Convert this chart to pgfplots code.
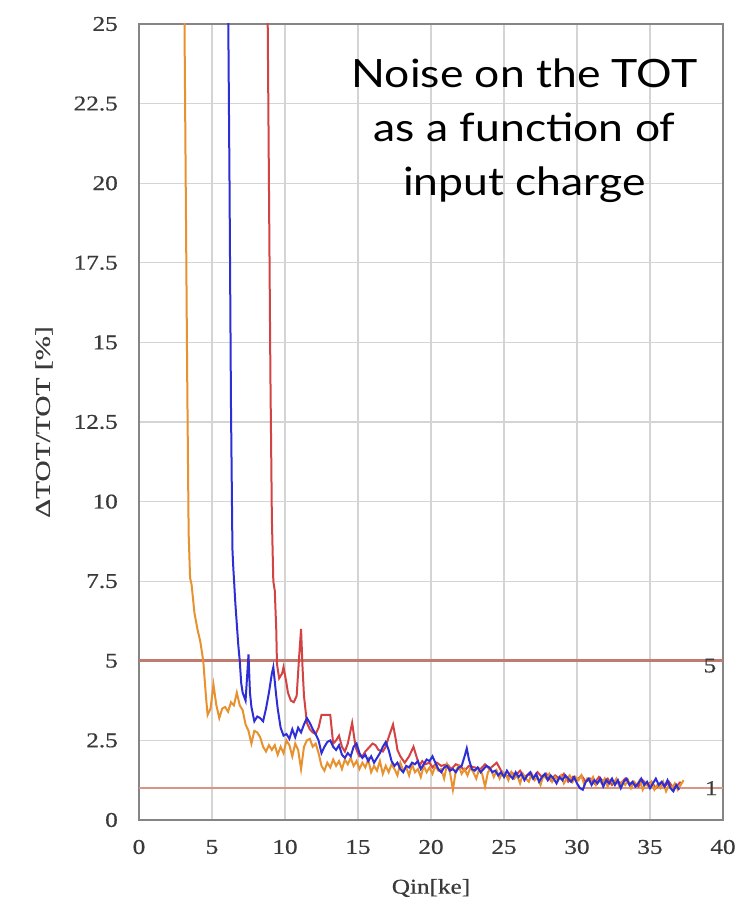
\documentclass[border=0pt]{standalone}
\usepackage{pgfplots}
\pgfplotsset{compat=1.18}
\usepackage{fontspec}
\setmainfont{Liberation Serif}[FakeStretch=1.2, FakeBold=0.6]
\newfontfamily\ylabfont{Liberation Serif}[FakeStretch=1.4, FakeBold=0.6]
\newfontfamily\titlefont{Lato}[FakeStretch=1.14]
\definecolor{gridgray}{HTML}{D4D4D4}
\definecolor{axisgray}{HTML}{858585}
\definecolor{tickgray}{HTML}{3A3A3A}
\definecolor{corange}{HTML}{E8912F}
\definecolor{cblue}{HTML}{2E2ED6}
\definecolor{cred}{HTML}{D34343}
\definecolor{hline}{HTML}{C07A70}
\definecolor{hlineb}{HTML}{D89585}
\begin{document}
\begin{tikzpicture}
\useasboundingbox (-139bp,-85bp) rectangle (617bp,820bp);
\begin{axis}[
  at={(0,0)}, anchor=south west,
  scale only axis, width=584bp, height=796bp,
  xmin=0, xmax=40, ymin=0, ymax=25,
  xtick={0,5,10,15,20,25,30,35,40},
  ytick={0,2.5,5,7.5,10,12.5,15,17.5,20,22.5,25},
  yticklabels={0,2.5,5,7.5,10,12.5,15,17.5,20,22.5,25},
  grid=major,
  major grid style={line width=1.3bp, draw=gridgray},
  axis line style={line width=2.2bp, draw=axisgray},
  major tick length=0pt,
  /pgf/number format/assume math mode=true,
  tick label style={font=\fontsize{21bp}{25bp}\selectfont, text=tickgray, inner sep=0pt},
  yticklabel style={anchor=east, xshift=-21bp},
  xticklabel style={anchor=center, yshift=-27bp},
  xlabel={Qin[ke]},
  ylabel={\ylabfont ΔTOT/TOT [\%]},
  label style={font=\fontsize{21bp}{25bp}\selectfont, text=tickgray, inner sep=0pt},
  xlabel style={at={(axis description cs:0.5,0)}, anchor=center, yshift=-68bp},
  ylabel style={at={(axis description cs:0,0.5)}, anchor=center, yshift=95bp},
]
\addplot[draw=hline, line width=2.8bp] coordinates {(0,5) (40,5)};
\addplot[draw=hlineb, line width=1.9bp] coordinates {(0,1) (40,1)};
% red
\addplot[draw=cred, line width=2bp] coordinates {
(8.8,26) (8.9,20) (9.0,14) (9.1,9.5) (9.2,7.5) (9.3,7.2) (9.4,6.0) (9.45,4.9) (9.6,4.45) (9.8,4.6) (9.9,4.8)
(10.1,4.3) (10.2,4.0) (10.4,3.75) (10.6,3.7) (10.8,3.9) (10.95,5.0) (11.1,6.0) (11.2,4.8) (11.3,3.9) (11.5,3.05)
(11.7,2.85) (11.9,2.75) (12.1,2.7) (12.3,2.9) (12.5,3.3) (12.7,3.3) (13.1,3.3) (13.3,2.4) (13.5,2.5) (13.7,2.65)
(13.9,2.3) (14.1,2.15) (14.3,2.4) (14.6,3.05) (14.8,2.4) (14.9,2.2) (15.1,2.0) (15.3,2.0) (15.5,2.15) (15.8,2.3)
(16.0,2.4) (16.2,2.35) (16.4,2.2) (16.7,2.15) (16.9,2.3) (17.1,2.6) (17.4,3.0) (17.6,2.5) (17.7,2.2) (17.9,2.0)
(18.2,1.8) (18.5,2.0) (18.8,2.3) (19.0,2.0) (19.2,1.7) (19.4,1.85) (19.6,1.75) (19.9,1.8) (20.1,1.65) (20.4,1.8)
(20.7,1.7) (21.1,1.75) (21.4,1.6) (21.7,1.75) (22.0,1.7) (22.3,1.55) (22.6,1.7) (23.0,1.65) (23.4,1.6) (23.7,1.75)
(24.0,1.6) (24.5,1.8) (24.8,1.55) (25.2,1.35) (25.5,1.5) (25.8,1.4) (26.1,1.55) (26.4,1.35) (26.7,1.45) (27.0,1.3)
(27.3,1.5) (27.6,1.35) (27.9,1.45) (28.2,1.25) (28.5,1.4) (28.8,1.3) (29.1,1.45) (29.4,1.2) (29.7,1.35) (30.0,1.25)
(30.3,1.4) (30.6,1.2) (30.9,1.3) (31.2,1.15) (31.5,1.35) (31.8,1.2) (32.1,1.3) (32.4,1.1) (32.7,1.25) (33.0,1.15)
(33.3,1.3) (33.6,1.1) (33.9,1.2) (34.2,1.05) (34.5,1.25) (34.8,1.1) (35.1,1.2) (35.4,1.0) (35.7,1.15) (36.0,1.05)
(36.3,1.2) (36.6,1.0) (36.9,1.1) (37.1,1.2)
};
% orange
\addplot[draw=corange, line width=2bp] coordinates {
(3.1,26) (3.2,20) (3.3,14) (3.4,9) (3.5,7.6) (3.6,7.4) (3.8,6.5) (4.0,6.0) (4.2,5.6) (4.4,5.0) (4.6,3.8) (4.7,3.3)
(4.9,3.5) (5.1,4.25) (5.3,3.6) (5.5,3.2) (5.7,3.5) (5.9,3.55) (6.1,3.4) (6.3,3.7) (6.5,3.6) (6.7,4.0) (6.9,3.6)
(7.1,3.45) (7.3,3.0) (7.5,2.8) (7.7,2.4) (7.9,2.8) (8.1,2.75) (8.3,2.6) (8.5,2.3) (8.7,2.15) (8.9,2.35) (9.1,2.2)
(9.3,2.35) (9.5,2.05) (9.7,2.3) (9.9,2.1) (10.1,2.5) (10.3,2.35) (10.5,2.0) (10.7,2.4) (10.9,2.2) (11.1,1.6)
(11.3,2.3) (11.5,2.5) (11.7,2.55) (11.9,2.3) (12.1,2.4) (12.3,2.1) (12.5,1.7) (12.7,1.55) (12.9,1.8) (13.1,1.65)
(13.3,1.9) (13.5,1.7) (13.7,1.85) (13.9,1.6) (14.1,1.9) (14.3,1.75) (14.5,1.95) (14.7,1.7) (14.9,1.85) (15.1,1.6)
(15.3,1.8) (15.5,1.65) (15.7,1.9) (15.9,1.5) (16.1,1.7) (16.3,1.55) (16.5,1.85) (16.7,1.45) (16.9,1.7) (17.1,1.5)
(17.3,1.75) (17.5,1.6) (17.7,1.4) (17.9,1.8) (18.1,1.55) (18.3,1.65) (18.5,1.4) (18.7,1.75) (18.9,1.5) (19.1,1.6)
(19.3,1.35) (19.5,1.7) (19.7,1.5) (19.9,1.65) (20.1,1.45) (20.3,1.7) (20.5,1.55) (20.7,1.6) (20.9,1.3) (21.1,1.75)
(21.3,1.5) (21.5,0.95) (21.7,1.55) (21.9,1.7) (22.1,1.45) (22.3,1.6) (22.5,1.4) (22.7,1.65) (22.9,1.5) (23.1,1.3)
(23.3,1.6) (23.5,1.45) (23.7,1.05) (23.9,1.5) (24.1,1.6) (24.3,1.35) (24.5,1.55) (24.7,1.3) (24.9,1.5) (25.1,1.45)
(25.3,1.25) (25.5,1.5) (25.7,1.3) (25.9,1.4) (26.1,1.15) (26.3,1.45) (26.5,1.3) (26.7,1.2) (26.9,1.45) (27.1,1.25)
(27.3,1.35) (27.5,1.1) (27.7,1.4) (27.9,1.3) (28.1,1.45) (28.3,1.2) (28.5,1.35) (28.7,1.25) (28.9,1.4) (29.1,1.15)
(29.3,1.3) (29.5,1.4) (29.7,1.2) (29.9,1.35) (30.1,1.25) (30.3,1.4) (30.5,1.1) (30.7,1.3) (30.9,1.2) (31.1,1.35)
(31.3,1.1) (31.5,1.25) (31.7,1.15) (31.9,1.3) (32.1,1.05) (32.3,1.25) (32.5,1.15) (32.7,1.3) (32.9,1.05) (33.1,1.2)
(33.3,1.1) (33.5,1.25) (33.7,1.0) (33.9,1.2) (34.1,1.1) (34.3,1.25) (34.5,0.95) (34.7,1.15) (34.9,1.05) (35.1,1.2)
(35.3,0.95) (35.5,1.1) (35.7,1.0) (35.9,1.2) (36.1,0.9) (36.3,1.1) (36.5,1.0) (36.7,1.15) (36.9,0.95) (37.1,1.1)
(37.3,1.25)
};
% blue
\addplot[draw=cblue, line width=2bp] coordinates {
(6.1,26) (6.2,20) (6.3,13) (6.4,8.5) (6.45,8.0) (6.6,6.8) (6.8,5.5) (6.9,5.0) (7.0,4.3) (7.1,4.0) (7.3,3.75)
(7.5,5.2) (7.6,4.0) (7.7,3.55) (7.9,3.1) (8.1,3.25) (8.3,3.2) (8.5,3.1) (8.7,3.5) (8.9,4.0) (9.1,4.6) (9.2,4.8)
(9.4,3.9) (9.5,3.5) (9.7,2.9) (9.9,2.65) (10.1,2.7) (10.3,2.55) (10.5,2.85) (10.7,2.6) (10.9,2.9) (11.1,2.75)
(11.3,3.0) (11.5,3.2) (11.7,3.05) (11.9,2.85) (12.1,2.7) (12.3,2.5) (12.5,2.1) (12.7,2.3) (12.9,2.45) (13.1,2.5)
(13.3,2.3) (13.5,2.2) (13.7,2.35) (13.9,2.05) (14.1,1.95) (14.3,2.1) (14.5,2.0) (14.7,2.3) (14.9,2.4) (15.1,2.1)
(15.3,1.95) (15.5,2.05) (15.7,1.85) (15.9,2.0) (16.1,1.8) (16.3,1.95) (16.5,2.1) (16.7,2.3) (16.9,2.45) (17.1,2.2)
(17.3,1.85) (17.5,1.7) (17.7,1.8) (17.9,1.6) (18.1,1.5) (18.3,1.7) (18.5,1.65) (18.7,1.8) (18.9,1.75) (19.1,1.85)
(19.3,1.6) (19.5,1.75) (19.7,1.9) (19.9,1.85) (20.1,2.0) (20.3,1.8) (20.5,1.6) (20.7,1.5) (20.9,1.65) (21.1,1.7)
(21.3,1.55) (21.5,1.6) (21.7,1.5) (21.9,1.65) (22.1,1.7) (22.3,2.0) (22.45,2.25) (22.6,1.9) (22.8,1.6) (23.0,1.55)
(23.2,1.65) (23.4,1.5) (23.6,1.6) (23.8,1.7) (24.0,1.65) (24.2,1.5) (24.4,1.55) (24.6,1.4) (24.8,1.5) (25.0,1.35)
(25.2,1.55) (25.4,1.4) (25.6,1.3) (25.8,1.5) (26.0,1.35) (26.2,1.45) (26.4,1.25) (26.6,1.4) (26.8,1.5) (27.0,1.3)
(27.2,1.45) (27.4,1.2) (27.6,1.35) (27.8,1.45) (28.0,1.25) (28.2,1.4) (28.4,1.3) (28.6,1.15) (28.8,1.35) (29.0,1.25)
(29.2,1.4) (29.4,1.3) (29.6,1.2) (29.8,1.35) (30.0,1.15) (30.2,1.0) (30.4,0.95) (30.6,1.2) (30.8,1.3) (31.0,1.1)
(31.2,1.25) (31.4,1.15) (31.6,1.3) (31.8,1.05) (32.0,1.25) (32.2,1.15) (32.4,1.3) (32.6,1.1) (32.8,1.25) (33.0,1.0)
(33.2,1.2) (33.4,1.3) (33.6,1.1) (33.8,1.2) (34.0,1.05) (34.2,1.15) (34.4,1.3) (34.6,1.1) (34.8,1.2) (35.0,1.0)
(35.2,1.15) (35.4,1.3) (35.6,1.1) (35.8,1.2) (36.0,1.05) (36.2,1.25) (36.4,1.0) (36.6,0.9) (36.8,1.1) (37.0,0.95)
};
\node[font=\fontsize{21bp}{25bp}\selectfont, text=tickgray, inner sep=0pt] at (axis cs:39.1,4.85) {5};
\node[font=\fontsize{21bp}{25bp}\selectfont, text=tickgray, inner sep=0pt] at (axis cs:39.2,1.0) {1};
\node[font=\titlefont\fontsize{39bp}{54bp}\selectfont, align=center, anchor=north, inner sep=0pt] at (axis cs:26.4,23.9) {Noise on the TOT\\as a function of\\input charge};
\end{axis}
\end{tikzpicture}
\end{document}
